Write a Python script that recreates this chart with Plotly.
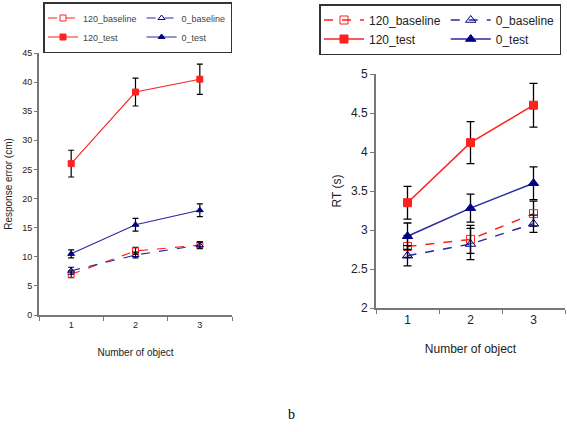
import plotly.graph_objects as go

categories = ["1", "2", "3"]

# Left chart: response error (cm)
err_120_baseline = [7.0, 11.0, 12.0]
err_120_baseline_sd = [0.6, 0.6, 0.6]
err_0_baseline = [7.6, 10.3, 12.0]
err_0_baseline_sd = [0.6, 0.5, 0.5]
err_120_test = [26.0, 38.3, 40.5]
err_120_test_sd = [2.3, 2.4, 2.6]
err_0_test = [10.5, 15.5, 18.0]
err_0_test_sd = [0.7, 1.1, 1.1]

# Right chart: RT (s)
rt_120_baseline = [2.79, 2.88, 3.21]
rt_120_baseline_sd = [0.14, 0.18, 0.16]
rt_0_baseline = [2.67, 2.82, 3.08]
rt_0_baseline_sd = [0.13, 0.20, 0.11]
rt_120_test = [3.35, 4.12, 4.60]
rt_120_test_sd = [0.21, 0.27, 0.28]
rt_0_test = [2.92, 3.28, 3.60]
rt_0_test_sd = [0.17, 0.18, 0.21]

RED = "#FF2020"
NAVY_LINE = "#2828A0"
NAVY = "#000080"

series = [
    ("120_baseline", "120", RED, RED, "dash", "square-open"),
    ("120_test", "120", RED, RED, "solid", "square"),
    ("0_baseline", "0", NAVY_LINE, NAVY, "dash", "triangle-up-open"),
    ("0_test", "0", NAVY_LINE, NAVY, "solid", "triangle-up"),
]
left_vals = {
    "120_baseline": (err_120_baseline, err_120_baseline_sd),
    "120_test": (err_120_test, err_120_test_sd),
    "0_baseline": (err_0_baseline, err_0_baseline_sd),
    "0_test": (err_0_test, err_0_test_sd),
}
right_vals = {
    "120_baseline": (rt_120_baseline, rt_120_baseline_sd),
    "120_test": (rt_120_test, rt_120_test_sd),
    "0_baseline": (rt_0_baseline, rt_0_baseline_sd),
    "0_test": (rt_0_test, rt_0_test_sd),
}

fig = go.Figure()
for name, grp, lc, mc, dash, sym in series:
    y, sd = left_vals[name]
    fig.add_trace(go.Scatter(
        x=categories, y=y, name=name, legendgroup="L" + grp, legend="legend",
        mode="lines+markers", xaxis="x", yaxis="y",
        line=dict(color=lc, width=1.1, dash=dash),
        marker=dict(symbol=sym, size=6, color=mc, line=dict(color=mc, width=1)),
        error_y=dict(type="data", array=sd, color="black", thickness=1.2, width=3),
    ))
for name, grp, lc, mc, dash, sym in series:
    y, sd = right_vals[name]
    fig.add_trace(go.Scatter(
        x=categories, y=y, name=name, legendgroup="R" + grp, legend="legend2",
        mode="lines+markers", xaxis="x2", yaxis="y2",
        line=dict(color=lc, width=1.5, dash=dash),
        marker=dict(symbol=sym, size=8 if "square" in sym else 9, color=mc,
                    line=dict(color=mc, width=1)),
        error_y=dict(type="data", array=sd, color="black", thickness=1.3, width=4),
    ))

W, H = 567, 432
axis_common = dict(showgrid=False, zeroline=False, showline=True, automargin=False,
                   linecolor="#777777", ticks="outside", tickcolor="#777777")

fig.update_layout(
    width=W, height=H,
    margin=dict(l=0, r=0, t=0, b=0, autoexpand=False),
    paper_bgcolor="white", plot_bgcolor="white",
    font=dict(family="Liberation Sans, Arial, sans-serif", color="#222222"),
    xaxis=dict(domain=[39 / W, 232 / W], anchor="y", type="category",
               tickson="boundaries", linewidth=2, ticklen=4,
               tickfont=dict(size=9), range=[-0.5, 2.5],
               title=dict(text="Number of object", font=dict(size=10), standoff=20),
               **axis_common),
    yaxis=dict(domain=[117 / H, 379 / H], anchor="x", range=[0, 45],
               tickvals=[0, 5, 10, 15, 20, 25, 30, 35, 40, 45], linewidth=2, ticklen=3,
               tickfont=dict(size=9),
               title=dict(text="Response error (cm)", font=dict(size=10), standoff=8),
               **axis_common),
    xaxis2=dict(domain=[376 / W, 565 / W], anchor="y2", type="category",
                tickson="boundaries", linewidth=2, ticklen=4,
                tickfont=dict(size=12), range=[-0.5, 2.5],
                title=dict(text="Number of object", font=dict(size=12), standoff=18),
                **axis_common),
    yaxis2=dict(domain=[124 / H, 358 / H], anchor="x2", range=[2, 5],
                tickvals=[2, 2.5, 3, 3.5, 4, 4.5, 5], linewidth=2, ticklen=4,
                tickfont=dict(size=12),
                title=dict(text="RT (s)", font=dict(size=12), standoff=7),
                **axis_common),
    legend=dict(x=43 / W, y=1 - 2 / H, xanchor="left", yanchor="top",
                orientation="h", traceorder="grouped", tracegroupgap=10,
                bordercolor="#333333", borderwidth=1.5, bgcolor="white",
                font=dict(size=9, color="#444444")),
    legend2=dict(x=319 / W, y=1 - 4 / H, xanchor="left", yanchor="top",
                 orientation="h", traceorder="grouped", tracegroupgap=14,
                 itemwidth=40,
                 bordercolor="#333333", borderwidth=1.5, bgcolor="white",
                 font=dict(size=12, color="#222222")),
    annotations=[dict(text="b", x=291 / W, y=1 - 414 / H, xref="paper", yref="paper",
                      xanchor="center", yanchor="middle",
                      showarrow=False, font=dict(family="Liberation Serif", size=14,
                                                 color="black"))],
)

fig.write_html("out.html")
